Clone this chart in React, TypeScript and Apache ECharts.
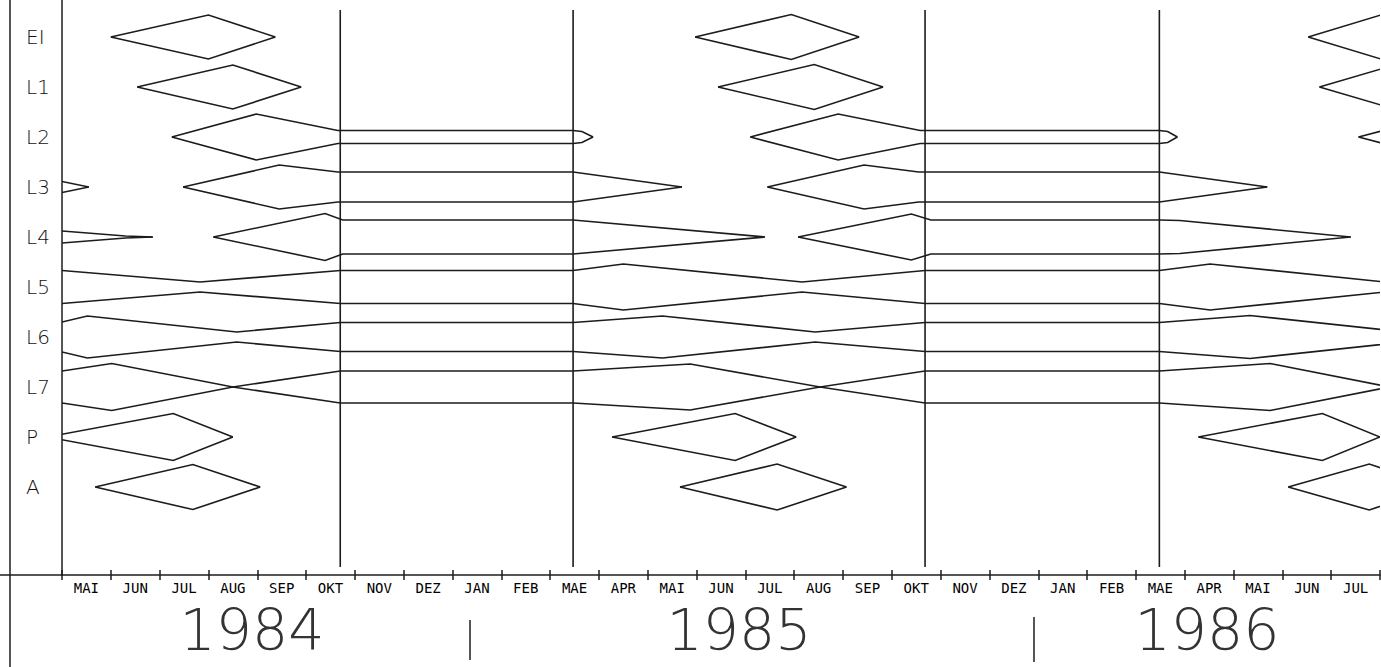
import React, { useEffect, useRef } from "react";
import * as echarts from "echarts";

// Month labels from May 1984 to July 1986 (German abbreviations)
const months = [
  "MAI", "JUN", "JUL", "AUG", "SEP", "OKT", "NOV", "DEZ", "JAN", "FEB", "MAE", "APR",
  "MAI", "JUN", "JUL", "AUG", "SEP", "OKT", "NOV", "DEZ", "JAN", "FEB", "MAE", "APR",
  "MAI", "JUN", "JUL",
];

// Development stages, top to bottom
const stages = ["EI", "L1", "L2", "L3", "L4", "L5", "L6", "L7", "P", "A"];

// Each kite: [months since 1 May 1984, half-width (relative abundance)]
const kitesEI = [
  [[1.0, 0], [3.0, 22], [4.37, 0]],
  [[12.97, 0], [14.94, 22.5], [16.33, 0]],
  [[25.53, 0], [27.05, 22.5], [28.4, 0]],
];
const kitesL1 = [
  [[1.54, 0], [3.5, 22], [4.9, 0]],
  [[13.44, 0], [15.41, 22.5], [16.82, 0]],
  [[25.76, 0], [27.3, 22], [28.7, 0]],
];
const kitesL2 = [
  [[2.25, 0], [3.98, 23], [5.65, 6.5], [10.47, 6.5], [10.65, 5.5], [10.88, 0]],
  [[14.1, 0], [15.9, 23], [17.58, 6.5], [22.48, 6.5], [22.65, 5.5], [22.85, 0]],
  [[26.56, 0], [28.36, 23]],
];
const kitesL3 = [
  [[0, 5.5], [0.55, 0]],
  [[2.48, 0], [4.45, 22], [5.65, 15], [10.47, 15], [12.7, 0]],
  [[14.45, 0], [16.43, 22], [17.55, 15], [22.48, 15], [24.69, 0]],
];
const kitesL4 = [
  [[0, 6], [1.3, 1], [1.86, 0]],
  [[3.1, 0], [5.39, 23.5], [5.75, 17], [10.47, 17], [14.4, 0]],
  [[15.08, 0], [17.4, 23], [17.8, 17], [22.48, 17], [22.9, 16.5], [26.4, 0]],
];
const kitesL5 = [
  [[0, 16.5], [2.83, 5], [5.7, 16.5], [10.47, 16.5], [11.5, 23], [15.16, 5],
   [17.68, 16.5], [22.48, 16.5], [23.52, 23], [27.1, 5], [28, 9]],
];
const kitesL6 = [
  [[0, 15], [0.52, 21], [3.58, 5], [5.7, 14.5], [10.47, 14.5], [12.3, 21], [15.43, 5],
   [17.68, 14.5], [22.48, 14.5], [24.34, 21.5], [27.5, 5]],
];
const kitesL7 = [
  [[0, 16], [1.02, 23.5], [3.5, 0], [5.7, 16], [10.47, 16], [12.87, 23], [15.53, 0],
   [17.68, 16], [22.48, 16], [24.75, 23.5], [27.2, 0], [28, 5]],
];
const kitesP = [
  [[-0.3, 0], [2.28, 23.5], [3.5, 0]],
  [[11.27, 0], [13.79, 23.5], [15.04, 0]],
  [[23.28, 0], [25.82, 23.5], [27.0, 0]],
];
const kitesA = [
  [[0.68, 0], [2.68, 22.5], [4.06, 0]],
  [[12.66, 0], [14.65, 23], [16.07, 0]],
  [[25.12, 0], [26.78, 23], [28.2, 0]],
];

// Start and end of the two overwintering periods (months since 1 May 1984)
const winterBounds = [5.7, 10.47, 17.68, 22.48];

const years = ["1984", "1985", "1986"];

const INK = "#1c1c1c";
const HALF_SCALE = 1 / 50; // abundance units -> stage rows

function kiteSeries(stageIdx: number, kites: number[][][]) {
  return {
    type: "custom",
    xAxisIndex: 0,
    yAxisIndex: 0,
    clip: true,
    silent: true,
    data: kites.map((k, i) => [k[0][0], stageIdx, i]),
    encode: { x: 0, y: 1 },
    renderItem: (params: any, api: any) => {
      const pts = kites[params.dataIndex];
      const upper = pts.map(([u, h]) => api.coord([u, stageIdx - h * HALF_SCALE]));
      const lower = pts.map(([u, h]) => api.coord([u, stageIdx + h * HALF_SCALE]));
      const style = { stroke: INK, lineWidth: 1.6, fill: null };
      return {
        type: "group",
        children: [
          { type: "polyline", shape: { points: upper }, style },
          { type: "polyline", shape: { points: lower }, style },
        ],
      };
    },
  };
}

export default function App() {
  const ref = useRef<HTMLDivElement>(null);

  useEffect(() => {
    if (!ref.current) return;
    const chart = echarts.init(ref.current, null, { renderer: "svg" });
    const kiteSets = [kitesEI, kitesL1, kitesL2, kitesL3, kitesL4, kitesL5, kitesL6, kitesL7, kitesP, kitesA];

    const monthAxisBase = {
      type: "category",
      data: months,
      boundaryGap: true,
      position: "bottom",
      gridIndex: 0,
      splitLine: { show: false },
    };

    chart.setOption({
      animation: false,
      backgroundColor: "#ffffff",
      grid: { left: 62, right: 1, top: 0, bottom: 92, containLabel: false },
      xAxis: [
        { type: "value", min: 0, max: 27, show: false },
        {
          ...monthAxisBase,
          axisLine: { show: true, lineStyle: { color: INK, width: 1.5 } },
          axisTick: { show: true, interval: 0, length: 5, lineStyle: { color: INK, width: 1.5 } },
          axisLabel: {
            interval: 0,
            margin: 6,
            color: "#000",
            fontSize: 14,
            fontFamily: "DejaVu Sans Mono",
          },
        },
        {
          ...monthAxisBase,
          axisLine: { show: false },
          axisTick: { show: true, inside: true, interval: 0, length: 5, lineStyle: { color: INK, width: 1.5 } },
          axisLabel: { show: false },
        },
      ],
      yAxis: {
        type: "value",
        inverse: true,
        min: -0.74,
        max: 10.76,
        axisLine: { show: true, lineStyle: { color: INK, width: 1.5 } },
        axisTick: { show: false },
        splitLine: { show: false },
        axisLabel: {
          customValues: stages.map((_, i) => i),
          formatter: (v: number) => stages[Math.round(v)] ?? "",
          align: "left",
          margin: 36,
          color: "#111",
          fontSize: 20,
          fontWeight: 200,
          fontFamily: "DejaVu Sans",
        },
      },
      series: [
        ...kiteSets.map((k, i) => kiteSeries(i, k)),
        {
          type: "custom",
          xAxisIndex: 0,
          yAxisIndex: 0,
          silent: true,
          data: winterBounds.map((u) => [u, 0]),
          encode: { x: 0, y: 1 },
          renderItem: (params: any, api: any) => {
            const u = api.value(0);
            const a = api.coord([u, -0.54]);
            const b = api.coord([u, 10.6]);
            return {
              type: "line",
              shape: { x1: a[0], y1: a[1], x2: b[0], y2: b[1] },
              style: { stroke: INK, lineWidth: 1.6 },
            };
          },
        },
      ],
      graphic: [
        { type: "line", shape: { x1: 10, y1: 0, x2: 10, y2: 667 }, style: { stroke: INK, lineWidth: 1.5 } },
        { type: "line", shape: { x1: 0, y1: 575, x2: 62, y2: 575 }, style: { stroke: INK, lineWidth: 1.5 } },
        { type: "line", shape: { x1: 470, y1: 620, x2: 470, y2: 660 }, style: { stroke: INK, lineWidth: 1.5 } },
        { type: "line", shape: { x1: 1034, y1: 617, x2: 1034, y2: 662 }, style: { stroke: INK, lineWidth: 1.5 } },
        ...years.map((y, i) => ({
          type: "text",
          x: [252, 739, 1207][i],
          y: 630,
          style: {
            text: y,
            fontSize: 57,
            fontWeight: 200,
            fontFamily: "DejaVu Sans",
            fill: "#333",
            align: "center",
            verticalAlign: "middle",
          },
        })),
      ],
    });

    return () => chart.dispose();
  }, []);

  return (
    <div
      ref={ref}
      style={{ position: "fixed", left: 0, top: 0, width: 1381, height: 667, background: "#fff" }}
    />
  );
}
